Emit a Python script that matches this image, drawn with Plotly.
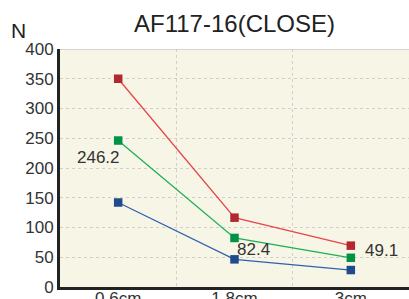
import plotly.graph_objects as go

categories = ["0.6cm", "1.8cm", "3cm"]
red_vals = [350, 116.5, 69.5]
green_vals = [246.2, 82.4, 49.1]
blue_vals = [142, 46.5, 28.5]
y_ticks = [0, 50, 100, 150, 200, 250, 300, 350, 400]
labels_text = ["246.2", "82.4", "49.1"]

series = [
    (red_vals, "#E8454A", "#B3282E"),
    (green_vals, "#1DB055", "#009245"),
    (blue_vals, "#2F62AE", "#1F4A8C"),
]

FONT = "Liberation Sans, Arial"

fig = go.Figure()
for vals, lc, mc in series:
    fig.add_trace(go.Scatter(
        x=categories, y=vals, mode="lines+markers",
        line=dict(color=lc, width=1.3),
        marker=dict(symbol="square", size=8.5, color=mc),
        showlegend=False, hoverinfo="skip",
    ))

# value labels for green series (pixel offsets from the point)
label_offsets = [(-20, -17), (19, -12), (31, 7)]
for cat, v, t, (dx, dy) in zip(categories, green_vals, labels_text, label_offsets):
    fig.add_annotation(x=cat, y=v, text=t, showarrow=False,
                       xshift=dx, yshift=dy,
                       font=dict(family=FONT, size=17, color="#333333"))

fig.add_annotation(xref="paper", yref="paper", x=-0.12, y=1.078, text="N",
                   showarrow=False, xanchor="center", yanchor="middle",
                   font=dict(family=FONT, size=21, color="#222222"))

fig.add_shape(type="line", xref="paper", yref="y", x0=0, x1=1, y0=400, y1=400,
              line=dict(color="#C8C8C8", width=1.5))

fig.update_layout(
    width=409, height=299,
    margin=dict(l=60, r=0, t=49, b=12),
    paper_bgcolor="white", plot_bgcolor="#F7F5E6",
    title=dict(text="AF117-16(CLOSE)", x=0.5, xanchor="center", xref="paper",
               y=0.922, yanchor="middle",
               font=dict(family=FONT, size=24, color="#222222")),
    font=dict(family=FONT, size=17, color="#333333"),
)
fig.update_xaxes(type="category", tickson="boundaries", showgrid=True,
                 gridcolor="#CFCFCF", griddash="dot", gridwidth=1,
                 showline=True, linecolor="#222222", linewidth=3,
                 ticks="", range=[-0.5, 2.5], tickfont=dict(size=17),
                 ticklabelstandoff=-6, automargin=False)
fig.update_yaxes(range=[0, 400], tickvals=y_ticks, showgrid=True,
                 gridcolor="#CFCFCF", griddash="dot", gridwidth=1,
                 showline=True, linecolor="#222222", linewidth=3,
                 ticks="", zeroline=False, tickfont=dict(size=17),
                 automargin=False)

fig.write_html("out.html", config={"displayModeBar": False},
               post_script="document.body.style.margin='0';document.body.style.overflow='hidden';")
